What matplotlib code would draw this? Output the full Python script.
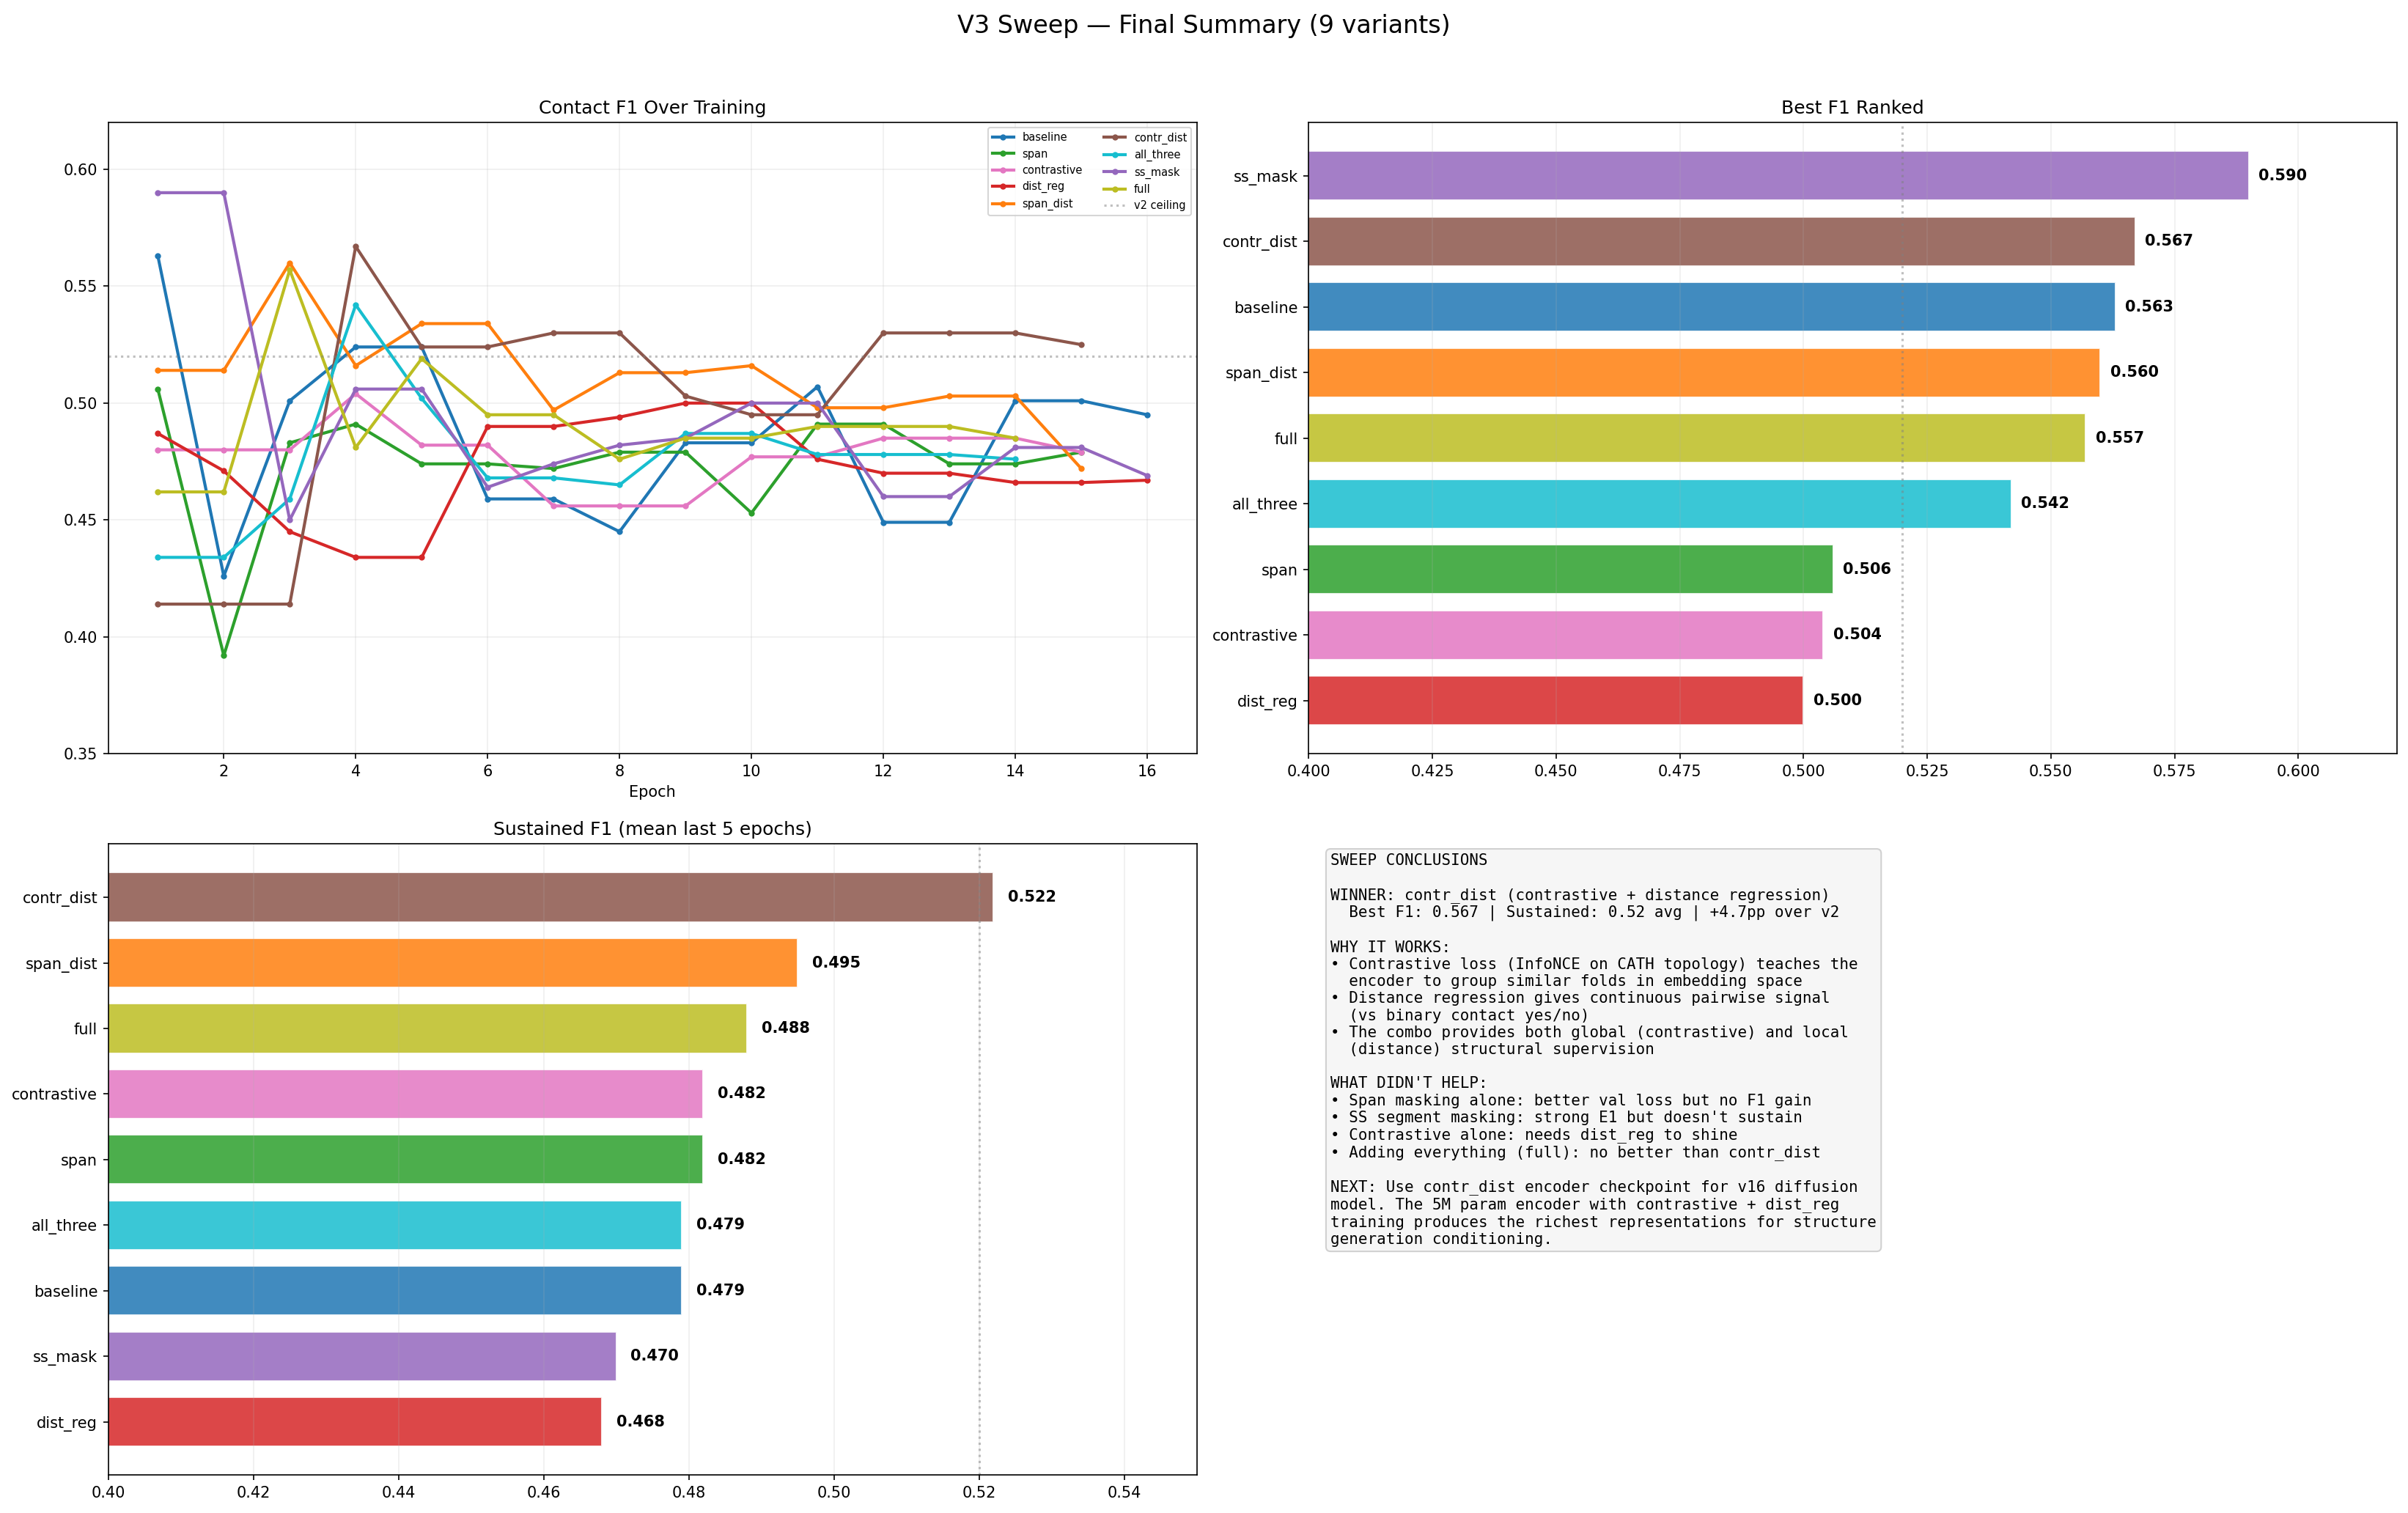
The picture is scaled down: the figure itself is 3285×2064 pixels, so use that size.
import matplotlib
matplotlib.use("Agg")
import matplotlib.pyplot as plt
import numpy as np

variants = ['baseline', 'span', 'contrastive', 'dist_reg', 'span_dist',
            'contr_dist', 'all_three', 'ss_mask', 'full']
colors = {'baseline': 'tab:blue', 'span': 'tab:green', 'contrastive': 'tab:pink',
          'dist_reg': 'tab:red', 'span_dist': 'tab:orange', 'contr_dist': 'tab:brown',
          'all_three': 'tab:cyan', 'ss_mask': 'tab:purple', 'full': 'tab:olive'}

# F1 per epoch
f1_baseline = [0.563, 0.426, 0.501, 0.524, 0.524, 0.459, 0.459, 0.445, 0.483, 0.483,
               0.507, 0.449, 0.449, 0.501, 0.501, 0.495]
f1_span = [0.506, 0.392, 0.483, 0.491, 0.474, 0.474, 0.472, 0.479, 0.479, 0.453,
           0.491, 0.491, 0.474, 0.474, 0.479]
f1_contrastive = [0.480, 0.480, 0.480, 0.504, 0.482, 0.482, 0.456, 0.456, 0.456, 0.477,
                  0.477, 0.485, 0.485, 0.485, 0.479]
f1_dist_reg = [0.487, 0.471, 0.445, 0.434, 0.434, 0.490, 0.490, 0.494, 0.500, 0.500,
               0.476, 0.470, 0.470, 0.466, 0.466, 0.467]
f1_span_dist = [0.514, 0.514, 0.560, 0.516, 0.534, 0.534, 0.497, 0.513, 0.513, 0.516,
                0.498, 0.498, 0.503, 0.503, 0.472]
f1_contr_dist = [0.414, 0.414, 0.414, 0.567, 0.524, 0.524, 0.530, 0.530, 0.503, 0.495,
                 0.495, 0.530, 0.530, 0.530, 0.525]
f1_all_three = [0.434, 0.434, 0.459, 0.542, 0.502, 0.468, 0.468, 0.465, 0.487, 0.487,
                0.478, 0.478, 0.478, 0.476]
f1_ss_mask = [0.590, 0.590, 0.450, 0.506, 0.506, 0.464, 0.474, 0.482, 0.485, 0.500,
              0.500, 0.460, 0.460, 0.481, 0.481, 0.469]
f1_full = [0.462, 0.462, 0.557, 0.481, 0.519, 0.495, 0.495, 0.476, 0.485, 0.485,
           0.490, 0.490, 0.490, 0.485]

history = {'baseline': f1_baseline, 'span': f1_span, 'contrastive': f1_contrastive,
           'dist_reg': f1_dist_reg, 'span_dist': f1_span_dist, 'contr_dist': f1_contr_dist,
           'all_three': f1_all_three, 'ss_mask': f1_ss_mask, 'full': f1_full}

best_names = ['dist_reg', 'contrastive', 'span', 'all_three', 'full', 'span_dist',
              'baseline', 'contr_dist', 'ss_mask']
best_vals = [0.500, 0.504, 0.506, 0.542, 0.557, 0.560, 0.563, 0.567, 0.590]

sust_names = ['dist_reg', 'ss_mask', 'baseline', 'all_three', 'span', 'contrastive',
              'full', 'span_dist', 'contr_dist']
sust_vals = [0.468, 0.470, 0.479, 0.479, 0.482, 0.482, 0.488, 0.495, 0.522]

v2_ceiling = 0.52

summary = """SWEEP CONCLUSIONS

WINNER: contr_dist (contrastive + distance regression)
  Best F1: 0.567 | Sustained: 0.52 avg | +4.7pp over v2

WHY IT WORKS:
\u2022 Contrastive loss (InfoNCE on CATH topology) teaches the
  encoder to group similar folds in embedding space
\u2022 Distance regression gives continuous pairwise signal
  (vs binary contact yes/no)
\u2022 The combo provides both global (contrastive) and local
  (distance) structural supervision

WHAT DIDN'T HELP:
\u2022 Span masking alone: better val loss but no F1 gain
\u2022 SS segment masking: strong E1 but doesn't sustain
\u2022 Contrastive alone: needs dist_reg to shine
\u2022 Adding everything (full): no better than contr_dist

NEXT: Use contr_dist encoder checkpoint for v16 diffusion
model. The 5M param encoder with contrastive + dist_reg
training produces the richest representations for structure
generation conditioning."""

fig, axes = plt.subplots(2, 2, figsize=(21.9, 13.76))
fig.subplots_adjust(left=0.045, right=0.9955, top=0.919, bottom=0.025,
                    wspace=0.103, hspace=0.143)
fig.suptitle('V3 Sweep \u2014 Final Summary (9 variants)', fontsize=16, y=0.991)

# Contact F1 over training
ax = axes[0, 0]
for name in variants:
    vals = history[name]
    epochs = np.arange(1, len(vals) + 1)
    ax.plot(epochs, vals, marker='o', markersize=3, linewidth=2,
            color=colors[name], label=name)
ax.axhline(v2_ceiling, color='gray', linestyle=':', alpha=0.5, label='v2 ceiling')
ax.set_ylim(0.35, 0.62)
ax.set_title('Contact F1 Over Training')
ax.set_xlabel('Epoch')
ax.legend(ncol=2, fontsize=7, loc='upper right')
ax.grid(alpha=0.2)

# Best F1 ranked
ax = axes[0, 1]
ax.barh(best_names, best_vals, color=[colors[n] for n in best_names],
        alpha=0.85, height=0.75, edgecolor='white')
ax.axvline(v2_ceiling, color='gray', linestyle=':', alpha=0.5)
for i, v in enumerate(best_vals):
    ax.text(v + 0.002, i, f'{v:.3f}', va='center', fontweight='bold', fontsize=10)
ax.set_xlim(0.40, 0.62)
ax.set_title('Best F1 Ranked')
ax.grid(alpha=0.2, axis='x')

# Sustained F1
ax = axes[1, 0]
ax.barh(sust_names, sust_vals, color=[colors[n] for n in sust_names],
        alpha=0.85, height=0.75, edgecolor='white')
ax.axvline(v2_ceiling, color='gray', linestyle=':', alpha=0.5)
for i, v in enumerate(sust_vals):
    ax.text(v + 0.002, i, f'{v:.3f}', va='center', fontweight='bold', fontsize=10)
ax.set_xlim(0.40, 0.55)
ax.set_title('Sustained F1 (mean last 5 epochs)')
ax.grid(alpha=0.2, axis='x')

# Summary text
ax = axes[1, 1]
ax.axis('off')
ax.text(0.02, 0.985, summary, transform=ax.transAxes, va='top', ha='left',
        fontsize=10, family='monospace',
        bbox=dict(boxstyle='round', facecolor='#f5f5f5', edgecolor='#cccccc', alpha=0.9))

plt.savefig('out.png', dpi=150)
